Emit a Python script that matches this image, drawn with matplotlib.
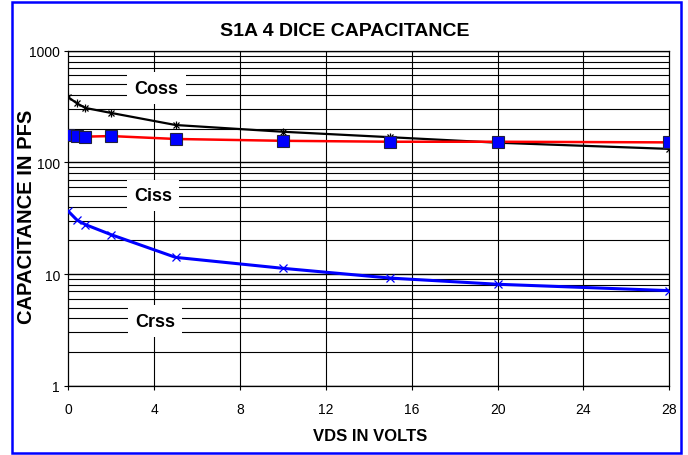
import matplotlib
matplotlib.use("Agg")
import matplotlib.pyplot as plt
import matplotlib.patches as patches
from matplotlib import font_manager
import numpy as np

# values
vds = [0, 0.4, 0.8, 2, 5, 10, 15, 20, 28]
coss = [383, 338, 307, 277, 216, 188, 168, 150, 132]
ciss = [177, 173, 170, 172, 162, 156, 153, 153, 151]
crss = [36.5, 30.5, 27.7, 22.5, 14.1, 11.25, 9.2, 8.1, 7.1]

xticks = [0, 4, 8, 12, 16, 20, 24, 28]
yticks = [1, 10, 100, 1000]

names = [f.name for f in font_manager.fontManager.ttflist]
narrow = 'Liberation Sans Narrow' if 'Liberation Sans Narrow' in names else 'Liberation Sans'
plt.rcParams['font.family'] = ['Liberation Sans', 'DejaVu Sans']

fig = plt.figure(figsize=(6.88, 4.56), dpi=100)
ax = fig.add_axes([68.3 / 688, 1 - 386.7 / 456, 601 / 688, 335 / 456])

ax.set_yscale('log')
ax.set_xlim(0, 28)
ax.set_ylim(1, 1000)

# grid lines
minor = [m * 10 ** d for d in range(0, 3) for m in range(2, 10)]
for v in minor:
    ax.axhline(v, color='black', lw=0.8, zorder=1)
for v in yticks:
    ax.axhline(v, color='black', lw=1.0, zorder=1)
for v in xticks[1:-1]:
    ax.axvline(v, color='black', lw=0.8, zorder=1)

# series
ax.plot(vds, coss, color='black', lw=1.6, zorder=4)
ax.plot(vds, coss, ls='none', marker='x', ms=5, mew=0.9, color='black', zorder=5)
ax.plot(vds, coss, ls='none', marker='|', ms=6, mew=0.9, color='black', zorder=5)

ax.plot(vds, ciss, color='#ff0000', lw=1.8, zorder=4)
ax.plot(vds, ciss, ls='none', marker='s', ms=8, color='#0000ff', mec='#202040', mew=0.8, zorder=6)

ax.plot(vds, crss, color='#0000ff', lw=2.2, zorder=4)
ax.plot(vds, crss, ls='none', marker='x', ms=6, mew=0.9, color='#0000ff', zorder=5)

# curve labels with white boxes
box = dict(boxstyle='square,pad=0.4', fc='white', ec='none')
for txt, xf, yf in [('Coss', 0.147, 0.888), ('Ciss', 0.141, 0.567), ('Crss', 0.144, 0.193)]:
    ax.text(xf, yf, txt, transform=ax.transAxes, ha='center', va='center',
            fontsize=13, fontweight='bold', family=[narrow, 'Liberation Sans'],
            bbox=box, zorder=3)

ax.set_xticks(xticks)
ax.set_xticklabels([str(t) for t in xticks])
ax.set_yticks(yticks)
ax.set_yticklabels([str(t) for t in yticks])
ax.yaxis.set_minor_locator(matplotlib.ticker.NullLocator())
ax.tick_params(axis='both', direction='out', length=3, width=0.8, labelsize=10, pad=3)
ax.tick_params(axis='x', pad=9)

for s in ax.spines.values():
    s.set_color('black')
    s.set_linewidth(0.9)

fig.text(345 / 688, 1 - 32 / 456, 'S1A 4 DICE CAPACITANCE', ha='center', va='center',
         fontsize=14, fontweight='bold', family=[narrow, 'Liberation Sans'])
fig.text(370 / 688, 1 - 437 / 456, 'VDS IN VOLTS', ha='center', va='center',
         fontsize=12, fontweight='bold', family=[narrow, 'Liberation Sans'])
fig.text(27 / 688, 1 - 216.5 / 456, 'CAPACITANCE IN PFS', ha='center', va='center',
         rotation=90, fontsize=14.5, fontweight='bold')

# blue outer frame
frame = patches.Rectangle((11.7 / 688, 1 - 454.3 / 456), (681 - 11.7) / 688, (454.3 - 3) / 456,
                          transform=fig.transFigure, fill=False, ec='#0000ff', lw=1.8)
fig.patches.append(frame)

fig.savefig('out.png', dpi=100)
